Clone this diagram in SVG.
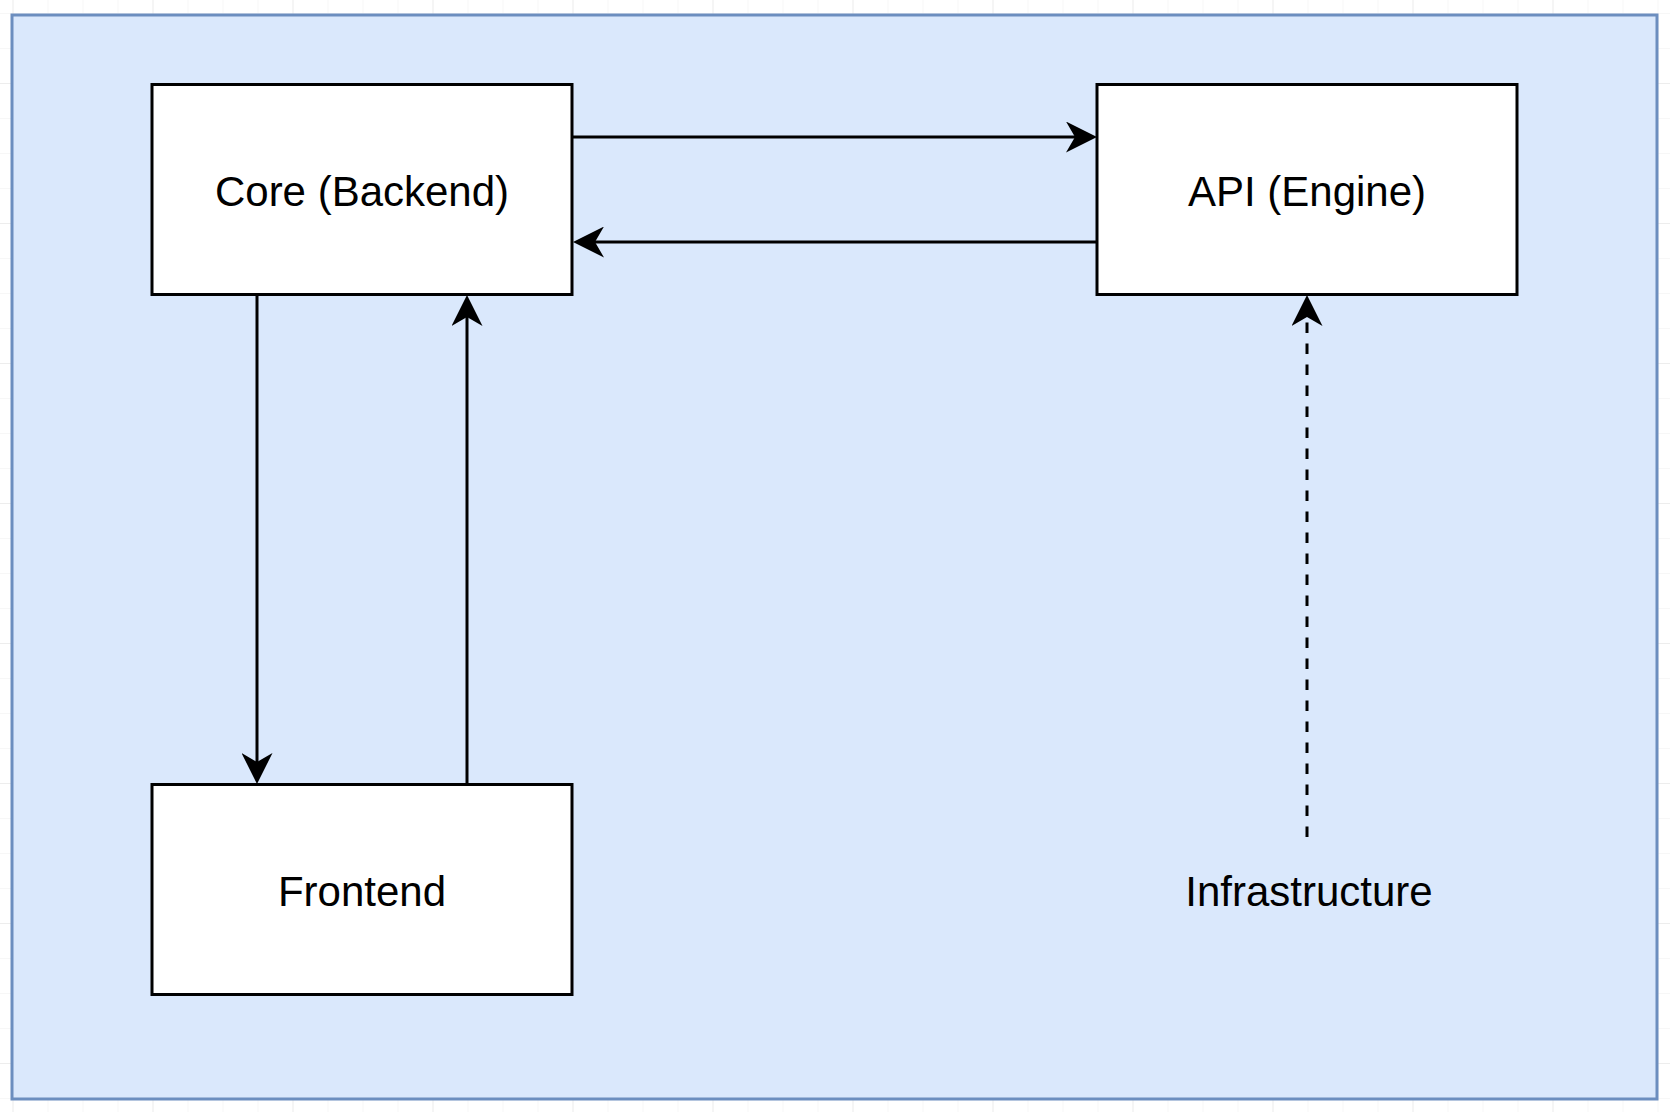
<svg xmlns="http://www.w3.org/2000/svg" width="1670" height="1112" viewBox="0 0 1670 1112">
  <style>
    .box { fill: #ffffff; stroke: #000000; stroke-width: 3; }
    .lbl { font-family: "Liberation Sans", Arial, Helvetica, sans-serif; font-size: 42px; fill: #000000; text-anchor: middle; }
    .edge { fill: none; stroke: #000000; stroke-width: 3; }
    .dashed { stroke-dasharray: 10.5 10.5; }
  </style>
  <defs>
    <pattern id="gridMinor" x="12.5" y="13" width="35" height="35" patternUnits="userSpaceOnUse">
      <path d="M0,0 L0,35 M0,0 L35,0" fill="none" stroke="#f0f0f0" stroke-width="1"/>
    </pattern>
    <pattern id="gridMajor" x="12.5" y="83" width="140" height="140" patternUnits="userSpaceOnUse">
      <path d="M0,0 L0,140 M0,0 L140,0" fill="none" stroke="#e4e4e4" stroke-width="1"/>
    </pattern>
    <marker id="arrow" markerUnits="userSpaceOnUse" viewBox="0 0 31 31" markerWidth="31" markerHeight="31" refX="9" refY="15.5" orient="auto">
      <path d="M31,15.5 L0,0 L9,15.5 L0,31 Z" fill="#000000"/>
    </marker>
  </defs>
  <rect x="0" y="0" width="1670" height="1112" fill="#ffffff"/>
  <rect x="0" y="0" width="1670" height="1112" fill="url(#gridMinor)"/>
  <rect x="0" y="0" width="1670" height="1112" fill="url(#gridMajor)"/>

  <g id="container">
    <rect x="12" y="15" width="1645" height="1084" fill="#dae8fc" stroke="#6c8ebf" stroke-width="3"/>
  </g>

  <g id="connectors">
    <line class="edge" x1="573" y1="137" x2="1075" y2="137" marker-end="url(#arrow)"/>
    <line class="edge" x1="1097" y1="242" x2="595" y2="242" marker-end="url(#arrow)"/>
    <line class="edge" x1="257" y1="295" x2="257" y2="762" marker-end="url(#arrow)"/>
    <line class="edge" x1="467" y1="784" x2="467" y2="317" marker-end="url(#arrow)"/>
    <line class="edge dashed" x1="1307" y1="837" x2="1307" y2="317" marker-end="url(#arrow)"/>
  </g>

  <g id="core">
    <rect class="box" x="152" y="84.5" width="420" height="210"/>
    <text class="lbl" x="362" y="206">Core (Backend)</text>
  </g>
  <g id="api">
    <rect class="box" x="1097" y="84.5" width="420" height="210"/>
    <text class="lbl" x="1307" y="206">API (Engine)</text>
  </g>
  <g id="frontend">
    <rect class="box" x="152" y="784.5" width="420" height="210"/>
    <text class="lbl" x="362" y="906">Frontend</text>
  </g>
  <g id="infrastructure">
    <text class="lbl" x="1309" y="906">Infrastructure</text>
  </g>
</svg>
